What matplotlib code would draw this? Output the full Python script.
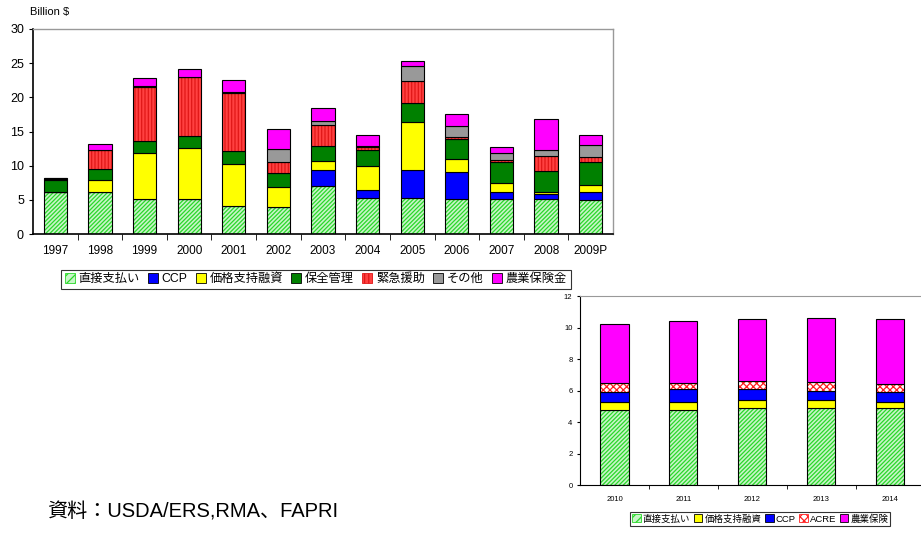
"""
Farm program payments, 1997-2009P and projection 2010-2014 (stacked bars).
"""
import numpy as np
import matplotlib
matplotlib.use("Agg")
import matplotlib.pyplot as plt
from matplotlib.patches import Patch

plt.rcParams['font.family'] = ['Liberation Sans', 'Noto Sans CJK JP', 'DejaVu Sans']
plt.rcParams['hatch.linewidth'] = 0.9

# --- main chart data (billion $) ---
years = ["1997", "1998", "1999", "2000", "2001", "2002", "2003",
         "2004", "2005", "2006", "2007", "2008", "2009P"]
direct = [6.1, 6.1, 5.1, 5.1, 4.05, 3.95, 7.0, 5.2, 5.2, 5.1, 5.1, 5.1, 4.97]
ccp = [0, 0, 0, 0, 0, 0, 2.3, 1.25, 4.1, 4.0, 1.1, 0.75, 1.18]
price_support = [0, 1.8, 6.75, 7.5, 6.2, 2.95, 1.35, 3.45, 7.1, 1.9, 1.2, 0.25, 0.95]
conservation = [1.85, 1.6, 1.75, 1.8, 1.9, 2.0, 2.25, 2.35, 2.8, 2.9, 3.1, 3.1, 3.4]
emergency = [0.1, 2.8, 7.9, 8.6, 8.55, 1.6, 3.05, 0.55, 3.2, 0.3, 0.4, 2.25, 0.8]
other = [0.15, 0, 0.1, 0, 0.1, 2.0, 0.65, 0.15, 2.2, 1.6, 0.9, 0.85, 1.7]
insurance = [0, 0.9, 1.2, 1.1, 1.8, 2.9, 1.85, 1.55, 0.7, 1.7, 1.0, 4.6, 1.5]

main_labels = ["直接支払い", "CCP", "価格支持融資", "保全管理", "緊急援助", "その他", "農業保険金"]

# --- projection chart data ---
proj_years = ["2010", "2011", "2012", "2013", "2014"]
p_direct = [4.74, 4.74, 4.87, 4.87, 4.87]
p_price = [0.51, 0.56, 0.55, 0.51, 0.40]
p_ccp = [0.63, 0.77, 0.65, 0.62, 0.61]
p_acre = [0.62, 0.43, 0.51, 0.53, 0.52]
p_insurance = [3.70, 3.90, 3.96, 4.05, 4.12]

proj_labels = ["直接支払い", "価格支持融資", "CCP", "ACRE", "農業保険"]

# styles per series
st = {
    "direct": dict(facecolor="#c8f5c8", hatch_color="#2ad82a", hatch="////////"),
    "ccp": dict(facecolor="#0000ff"),
    "price": dict(facecolor="#ffff00"),
    "cons": dict(facecolor="#008000"),
    "emerg": dict(facecolor="#ff4040", hatch_color="#e01818", hatch="|||||"),
    "other": dict(facecolor="#999999"),
    "ins": dict(facecolor="#ff00ff"),
    "acre": dict(facecolor="white", hatch_color="#ff2020", hatch="xxxxx"),
}


def stacked(ax, x, series, keys, width):
    bottom = np.zeros(len(x))
    for vals, key in zip(series, keys):
        vals = np.array(vals, dtype=float)
        s = st[key]
        if "hatch" in s:
            ax.bar(x, vals, width, bottom=bottom, color=s["facecolor"],
                   edgecolor=s["hatch_color"], hatch=s["hatch"], linewidth=0)
            ax.bar(x, vals, width, bottom=bottom, fill=False,
                   edgecolor="black", linewidth=0.8)
        else:
            ax.bar(x, vals, width, bottom=bottom, color=s["facecolor"],
                   edgecolor="black", linewidth=0.8)
        bottom += vals


def handle(key):
    s = st[key]
    if "hatch" in s:
        return Patch(facecolor=s["facecolor"], edgecolor=s["hatch_color"], hatch=s["hatch"][:4],
                     linewidth=0.6)
    return Patch(facecolor=s["facecolor"], edgecolor="black", linewidth=0.6)


fig = plt.figure(figsize=(9.21, 5.36), dpi=100)

# main chart
ax = fig.add_axes([0.0358, 0.5634, 0.6298, 0.3825])
x = np.arange(len(years))
main_keys = ["direct", "ccp", "price", "cons", "emerg", "other", "ins"]
stacked(ax, x, [direct, ccp, price_support, conservation, emergency, other, insurance],
        main_keys, 0.52)
ax.set_xlim(-0.5, len(years) - 0.5)
ax.set_ylim(0, 30)
ax.set_yticks(range(0, 31, 5))
ax.set_xticks(x)
ax.set_xticklabels(years, fontsize=8.5)
ax.set_xticks(np.arange(0.5, len(years) - 0.5, 1), minor=True)
ax.tick_params(axis="x", which="major", length=0, pad=8)
ax.tick_params(axis="x", which="minor", length=4, direction="out")
ax.tick_params(axis="y", length=3, labelsize=9)
for sp in ["top", "right"]:
    ax.spines[sp].set_color("#999999")
    ax.spines[sp].set_linewidth(1.0)
for sp in ["left", "bottom"]:
    ax.spines[sp].set_linewidth(1.2)
fig.text(0.033, 0.977, "Billion $", fontsize=8, va="center")

leg = fig.legend([handle(k) for k in main_keys], main_labels, ncol=7,
                 loc="center", bbox_to_anchor=(0.343, 0.479), fontsize=8.8,
                 handlelength=0.8, handleheight=0.8, handletextpad=0.3,
                 columnspacing=0.7, borderpad=0.3, fancybox=False, frameon=True)
leg.get_frame().set_edgecolor("black")
leg.get_frame().set_linewidth(0.8)

# projection chart
ax2 = fig.add_axes([0.6298, 0.0951, 0.3702, 0.3526])
x2 = np.arange(len(proj_years))
proj_keys = ["direct", "price", "ccp", "acre", "ins"]
stacked(ax2, x2, [p_direct, p_price, p_ccp, p_acre, p_insurance], proj_keys, 0.41)
ax2.set_xlim(-0.5, 4.45)
ax2.set_ylim(0, 12)
ax2.set_yticks(range(0, 13, 2))
ax2.set_xticks(x2)
ax2.set_xticklabels(proj_years, fontsize=5.5)
ax2.set_xticks(np.arange(0.5, 4.5, 1), minor=True)
ax2.tick_params(axis="x", which="major", length=0, pad=8)
ax2.tick_params(axis="x", which="minor", length=3, direction="out")
ax2.tick_params(axis="y", length=2, labelsize=5.5)
ax2.spines["right"].set_visible(False)
ax2.spines["top"].set_color("#999999")

leg2 = fig.legend([handle(k) for k in proj_keys], proj_labels, ncol=5,
                  loc="center", bbox_to_anchor=(0.8255, 0.032), fontsize=6.8,
                  handlelength=0.9, handleheight=0.9, handletextpad=0.2,
                  columnspacing=0.4, borderpad=0.2, fancybox=False, frameon=True)
leg2.get_frame().set_edgecolor("black")
leg2.get_frame().set_linewidth(0.8)

fig.text(0.051, 0.045, "資料：USDA/ERS,RMA、FAPRI", fontsize=14.5, va="center")

fig.savefig("out.png", dpi=100)
